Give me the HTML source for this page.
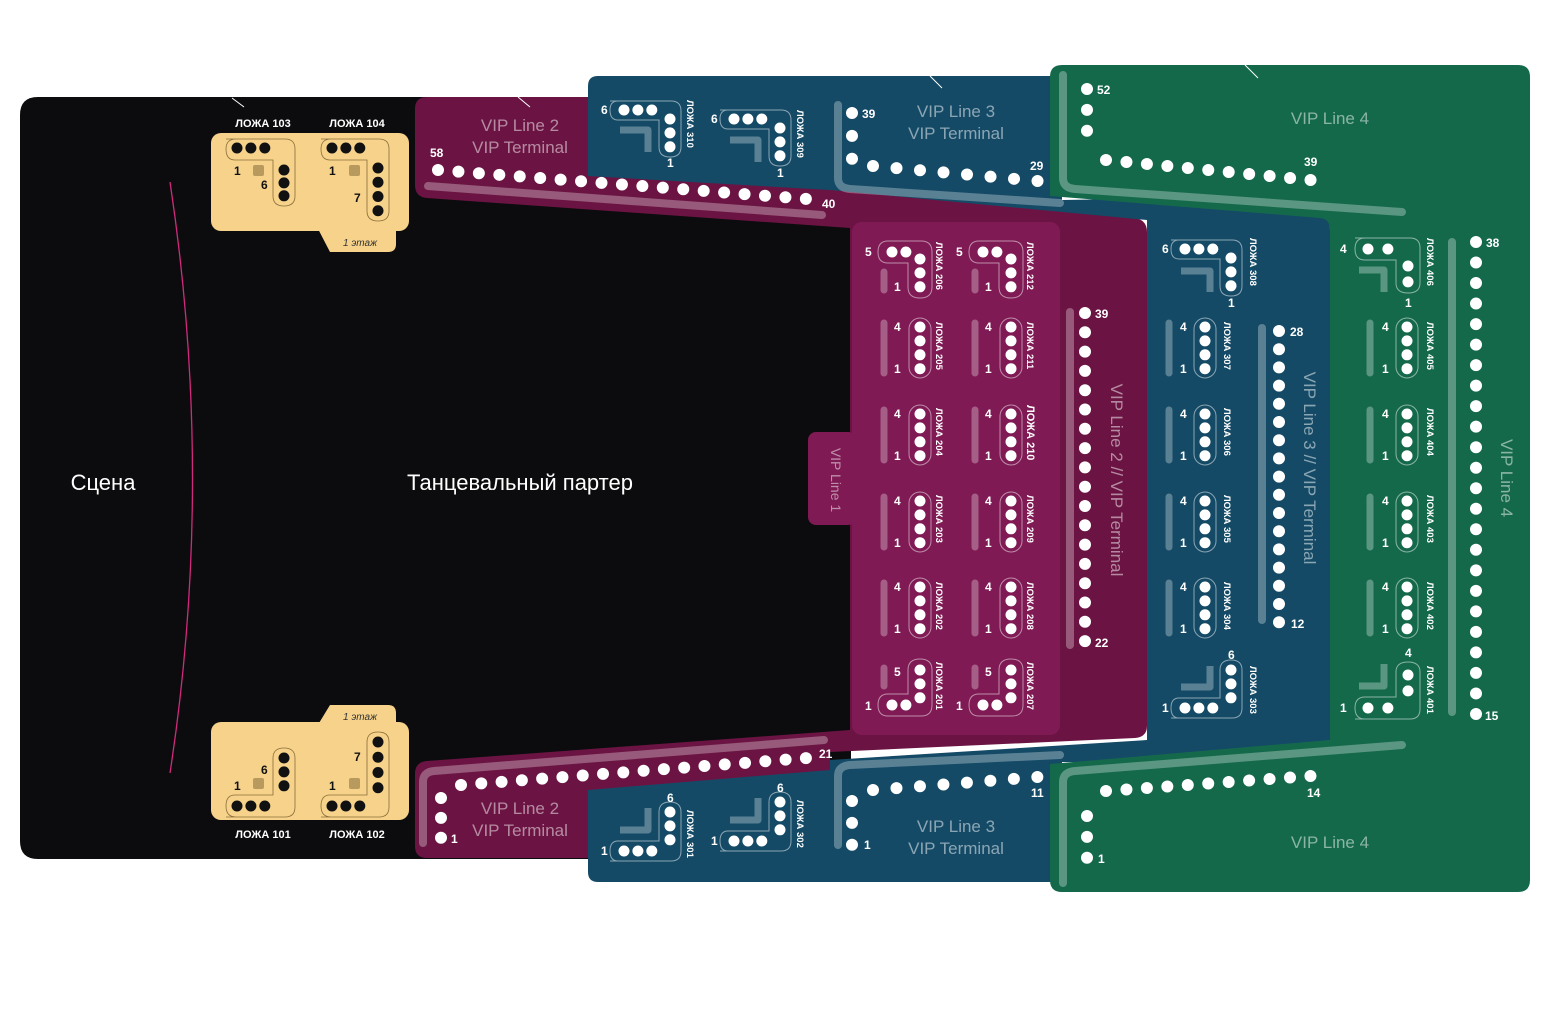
<!DOCTYPE html>
<html><head><meta charset="utf-8"><style>
html,body{margin:0;padding:0;background:#fff;width:1550px;height:1030px;overflow:hidden}
svg{display:block}
text{font-family:"Liberation Sans","DejaVu Sans",sans-serif}
.d{stroke:#fff;stroke-width:12;stroke-linecap:round;fill:none}
.ld{stroke:#fff;stroke-width:11;stroke-linecap:round;fill:none}
.bd{stroke:#111;stroke-width:11;stroke-linecap:round;fill:none}
.n{fill:#fff;font-weight:bold;font-size:12px}
.nb{fill:#111;font-weight:bold;font-size:12px}
.lb{fill:#fff;font-weight:bold;font-size:9.5px}
.ol{fill:none;stroke:rgba(255,255,255,.5);stroke-width:1}
.bar{stroke:rgba(255,255,255,.3);stroke-width:7;stroke-linecap:round;fill:none}
.big{stroke:rgba(255,255,255,.3);stroke-width:8;stroke-linecap:round;fill:none}
</style></head><body>
<svg width="1550" height="1030" viewBox="0 0 1550 1030" xmlns="http://www.w3.org/2000/svg">
<path d="M38,97 H851 V859 H38 Q20,859 20,841 V115 Q20,97 38,97 Z" fill="#0c0c0e"/>
<path d="M170,182 Q215,480 170,773" stroke="#d02a7c" stroke-width="1.3" fill="none"/>
<text x="103" y="490" fill="#fff" font-size="22" text-anchor="middle">Сцена</text>
<text x="520" y="490" fill="#fff" font-size="22" text-anchor="middle">Танцевальный партер</text>

<path fill="#6b1443" d="M427,97 H600 V172 L830,188 L1135,218 Q1147,220 1147,232 V726 Q1147,737 1135,738 L830,752 V858 H427 Q415,858 415,846 V774 Q415,762 427,761 L850,730 V228 L427,198 Q415,197 415,185 V109 Q415,97 427,97 Z"/>
<rect x="852" y="222" width="208" height="513" rx="10" fill="#7f1a54"/>
<rect x="808" y="432" width="48" height="93" rx="8" fill="#7f1a54"/>
<path class="big" d="M428,186 L822,215"/>
<path class="big" d="M423,843 V782 Q423,772 434,771 L824,740"/>
<path class="big" d="M1070,312 V645"/>

<path fill="#144a66" d="M598,76 H1062 V200 L1300,196 Q1330,200 1330,230 V762 L1062,762 V882 H598 Q588,882 588,872 V790 L830,770 V760 L1147,740 V220 L830,190 L588,176 V86 Q588,76 598,76 Z"/>
<path class="big" d="M838,105 V178 Q838,188 850,189 L1060,203"/>
<path class="big" d="M838,845 V776 Q838,766 850,765 L1060,755"/>
<path class="big" d="M1262,328 V620"/>

<path fill="#14694b" d="M1062,65 H1518 Q1530,65 1530,77 V880 Q1530,892 1518,892 H1062 Q1050,892 1050,880 V764 L1330,740 V230 Q1330,219 1320,218 L1050,196 V77 Q1050,65 1062,65 Z"/>
<path class="big" d="M1063,75 V178 Q1063,188 1075,189 L1402,212"/>
<path class="big" d="M1063,883 V782 Q1063,772 1075,771 L1402,745"/>
<path class="big" d="M1452,242 V712"/>

<g stroke="#fff" stroke-width="1"><line x1="232" y1="98" x2="244" y2="107"/><line x1="518" y1="97" x2="530" y2="107"/><line x1="930" y1="76" x2="942" y2="88"/><line x1="1245" y1="65" x2="1258" y2="78"/></g>

<g fill="rgba(255,255,255,.5)" font-size="17" text-anchor="middle">
<text x="520" y="131">VIP Line 2</text><text x="520" y="153">VIP Terminal</text>
<text x="520" y="814">VIP Line 2</text><text x="520" y="836">VIP Terminal</text>
<text x="956" y="117">VIP Line 3</text><text x="956" y="139">VIP Terminal</text>
<text x="956" y="832">VIP Line 3</text><text x="956" y="854">VIP Terminal</text>
<text x="1330" y="124">VIP Line 4</text><text x="1330" y="848">VIP Line 4</text>
<text transform="translate(1111,480) rotate(90)">VIP Line 2 // VIP Terminal</text>
<text transform="translate(1304,468) rotate(90)">VIP Line 3 // VIP Terminal</text>
<text transform="translate(1501,478) rotate(90)">VIP Line 4</text>
<text transform="translate(831,480) rotate(90)" font-size="14">VIP Line 1</text>
</g>

<line class="d" x1="438" y1="170" x2="807" y2="199" stroke-dasharray="0 20.5"/>
<line class="d" x1="461" y1="785" x2="807" y2="758" stroke-dasharray="0 20.35"/>
<line class="d" x1="441" y1="798" x2="441" y2="838" stroke-dasharray="0 19.9"/>
<line class="d" x1="852" y1="113" x2="852" y2="159" stroke-dasharray="0 22.9"/>
<line class="d" x1="873" y1="166" x2="1038" y2="181" stroke-dasharray="0 23.6"/>
<line class="d" x1="852" y1="801" x2="852" y2="845" stroke-dasharray="0 21.9"/>
<line class="d" x1="873" y1="790" x2="1038" y2="777" stroke-dasharray="0 23.55"/>
<line class="d" x1="1087" y1="89" x2="1087" y2="131" stroke-dasharray="0 20.9"/>
<line class="d" x1="1106" y1="160" x2="1311" y2="180" stroke-dasharray="0 20.55"/>
<line class="d" x1="1087" y1="816" x2="1087" y2="858" stroke-dasharray="0 20.9"/>
<line class="d" x1="1106" y1="791" x2="1311" y2="776" stroke-dasharray="0 20.5"/>
<line class="d" x1="1085" y1="313" x2="1085" y2="642" stroke-dasharray="0 19.3"/>
<line class="d" x1="1279" y1="331" x2="1279" y2="623" stroke-dasharray="0 18.2"/>
<line class="d" x1="1476" y1="242" x2="1476" y2="715" stroke-dasharray="0 20.52"/>
<g class="n">
<text x="430" y="157">58</text><text x="822" y="208">40</text>
<text x="819" y="758">21</text><text x="451" y="843">1</text>
<text x="862" y="118">39</text><text x="1030" y="170">29</text>
<text x="1031" y="797">11</text><text x="864" y="849">1</text>
<text x="1097" y="94">52</text><text x="1304" y="166">39</text>
<text x="1307" y="797">14</text><text x="1098" y="863">1</text>
<text x="1095" y="318">39</text><text x="1095" y="647">22</text>
<text x="1290" y="336">28</text><text x="1291" y="628">12</text>
<text x="1486" y="247">38</text><text x="1485" y="720">15</text>
</g>

<g fill="#f6d28a">
<rect x="211" y="133" width="198" height="98" rx="10"/>
<path d="M316,225 H396 V244 Q396,252 388,252 H330 Z"/>
<rect x="211" y="722" width="198" height="98" rx="10"/>
<path d="M316,728 H396 V713 Q396,705 388,705 H330 Z"/>
</g>
<g fill="#333" font-size="10" font-style="italic" text-anchor="middle"><text x="360" y="246">1 этаж</text><text x="360" y="720">1 этаж</text></g>
<g fill="none" stroke="#8a6d3b" stroke-width="0.8">
<path d="M226,139 H285 Q295,139 295,149 V196 Q295,206 284,206 Q273,206 273,196 V160 H235 Q226,160 226,149 Q226,139 236,139 Z"/>
<path d="M321,139 H379 Q389,139 389,149 V211 Q389,221 378,221 Q367,221 367,211 V160 H330 Q321,160 321,149 Q321,139 331,139 Z"/>
<path d="M226,817 H285 Q295,817 295,807 V758 Q295,748 284,748 Q273,748 273,758 V795 H235 Q226,795 226,806 Q226,817 236,817 Z"/>
<path d="M321,817 H379 Q389,817 389,807 V742 Q389,732 378,732 Q367,732 367,742 V795 H330 Q321,795 321,806 Q321,817 331,817 Z"/>
</g>
<g class="bd">
<line x1="237" y1="148" x2="265" y2="148" stroke-dasharray="0 13.9"/><line x1="284" y1="170" x2="284" y2="196" stroke-dasharray="0 12.9"/>
<line x1="332" y1="148" x2="360" y2="148" stroke-dasharray="0 13.9"/><line x1="378" y1="168" x2="378" y2="211" stroke-dasharray="0 14.25"/>
<line x1="237" y1="806" x2="265" y2="806" stroke-dasharray="0 13.9"/><line x1="284" y1="758" x2="284" y2="786" stroke-dasharray="0 13.9"/>
<line x1="332" y1="806" x2="360" y2="806" stroke-dasharray="0 13.9"/><line x1="378" y1="742" x2="378" y2="788" stroke-dasharray="0 15.25"/>
</g>
<g fill="#b89a5f"><rect x="253" y="165" width="11" height="11" rx="2"/><rect x="349" y="165" width="11" height="11" rx="2"/><rect x="253" y="778" width="11" height="11" rx="2"/><rect x="349" y="778" width="11" height="11" rx="2"/></g>
<g class="nb">
<text x="234" y="175">1</text><text x="261" y="189">6</text><text x="329" y="175">1</text><text x="354" y="202">7</text>
<text x="234" y="790">1</text><text x="261" y="774">6</text><text x="329" y="790">1</text><text x="354" y="761">7</text>
</g>
<g fill="#fff" font-weight="bold" font-size="11" text-anchor="middle">
<text x="263" y="127">ЛОЖА 103</text><text x="357" y="127">ЛОЖА 104</text>
<text x="263" y="838">ЛОЖА 101</text><text x="357" y="838">ЛОЖА 102</text>
</g>

<g>
<g class="ol">
<rect x="909" y="318" width="22" height="60" rx="11"/><rect x="909" y="405" width="22" height="60" rx="11"/><rect x="909" y="492" width="22" height="60" rx="11"/><rect x="909" y="578" width="22" height="60" rx="11"/>
<rect x="1000" y="318" width="22" height="60" rx="11"/><rect x="1000" y="405" width="22" height="60" rx="11"/><rect x="1000" y="492" width="22" height="60" rx="11"/><rect x="1000" y="578" width="22" height="60" rx="11"/>
<rect x="1194" y="318" width="22" height="60" rx="11"/><rect x="1194" y="405" width="22" height="60" rx="11"/><rect x="1194" y="492" width="22" height="60" rx="11"/><rect x="1194" y="578" width="22" height="60" rx="11"/>
<rect x="1396" y="318" width="22" height="60" rx="11"/><rect x="1396" y="405" width="22" height="60" rx="11"/><rect x="1396" y="492" width="22" height="60" rx="11"/><rect x="1396" y="578" width="22" height="60" rx="11"/>
</g>
<g class="ld" stroke-dasharray="0 13.9">
<line x1="920" y1="327" x2="920" y2="369"/><line x1="920" y1="414" x2="920" y2="456"/><line x1="920" y1="501" x2="920" y2="543"/><line x1="920" y1="587" x2="920" y2="629"/>
<line x1="1011" y1="327" x2="1011" y2="369"/><line x1="1011" y1="414" x2="1011" y2="456"/><line x1="1011" y1="501" x2="1011" y2="543"/><line x1="1011" y1="587" x2="1011" y2="629"/>
<line x1="1205" y1="327" x2="1205" y2="369"/><line x1="1205" y1="414" x2="1205" y2="456"/><line x1="1205" y1="501" x2="1205" y2="543"/><line x1="1205" y1="587" x2="1205" y2="629"/>
<line x1="1407" y1="327" x2="1407" y2="369"/><line x1="1407" y1="414" x2="1407" y2="456"/><line x1="1407" y1="501" x2="1407" y2="543"/><line x1="1407" y1="587" x2="1407" y2="629"/>
</g>
<g class="bar">
<line x1="884" y1="323" x2="884" y2="373"/><line x1="884" y1="410" x2="884" y2="460"/><line x1="884" y1="497" x2="884" y2="547"/><line x1="884" y1="583" x2="884" y2="633"/>
<line x1="975" y1="323" x2="975" y2="373"/><line x1="975" y1="410" x2="975" y2="460"/><line x1="975" y1="497" x2="975" y2="547"/><line x1="975" y1="583" x2="975" y2="633"/>
<line x1="1169" y1="323" x2="1169" y2="373"/><line x1="1169" y1="410" x2="1169" y2="460"/><line x1="1169" y1="497" x2="1169" y2="547"/><line x1="1169" y1="583" x2="1169" y2="633"/>
<line x1="1370" y1="323" x2="1370" y2="373"/><line x1="1370" y1="410" x2="1370" y2="460"/><line x1="1370" y1="497" x2="1370" y2="547"/><line x1="1370" y1="583" x2="1370" y2="633"/>
<line x1="884" y1="272" x2="884" y2="290"/><line x1="975" y1="272" x2="975" y2="290"/><line x1="884" y1="668" x2="884" y2="686"/><line x1="975" y1="668" x2="975" y2="686"/>
</g>
<g class="n" font-size="11">
<text x="894" y="331">4</text><text x="894" y="373">1</text><text x="894" y="418">4</text><text x="894" y="460">1</text><text x="894" y="505">4</text><text x="894" y="547">1</text><text x="894" y="591">4</text><text x="894" y="633">1</text>
<text x="985" y="331">4</text><text x="985" y="373">1</text><text x="985" y="418">4</text><text x="985" y="460">1</text><text x="985" y="505">4</text><text x="985" y="547">1</text><text x="985" y="591">4</text><text x="985" y="633">1</text>
<text x="1180" y="331">4</text><text x="1180" y="373">1</text><text x="1180" y="418">4</text><text x="1180" y="460">1</text><text x="1180" y="505">4</text><text x="1180" y="547">1</text><text x="1180" y="591">4</text><text x="1180" y="633">1</text>
<text x="1382" y="331">4</text><text x="1382" y="373">1</text><text x="1382" y="418">4</text><text x="1382" y="460">1</text><text x="1382" y="505">4</text><text x="1382" y="547">1</text><text x="1382" y="591">4</text><text x="1382" y="633">1</text>
</g>
</g>

<g class="ol">
<path d="M888,241 H921 Q932,241 932,252 V287 Q932,298 920,298 Q908,298 908,287 V263 H888 Q878,263 878,252 Q878,241 888,241 Z"/>
<path d="M979,241 H1012 Q1023,241 1023,252 V287 Q1023,298 1011,298 Q999,298 999,287 V263 H979 Q969,263 969,252 Q969,241 979,241 Z"/>
<path d="M888,716 H921 Q932,716 932,705 V670 Q932,659 920,659 Q908,659 908,670 V694 H888 Q878,694 878,705 Q878,716 888,716 Z"/>
<path d="M979,716 H1012 Q1023,716 1023,705 V670 Q1023,659 1011,659 Q999,659 999,670 V694 H979 Q969,694 969,705 Q969,716 979,716 Z"/>
</g>
<g class="ld">
<line x1="892" y1="252" x2="906" y2="252" stroke-dasharray="0 13.9"/><line x1="920" y1="259" x2="920" y2="287" stroke-dasharray="0 13.9"/>
<line x1="983" y1="252" x2="997" y2="252" stroke-dasharray="0 13.9"/><line x1="1011" y1="259" x2="1011" y2="287" stroke-dasharray="0 13.9"/>
<line x1="892" y1="705" x2="906" y2="705" stroke-dasharray="0 13.9"/><line x1="920" y1="670" x2="920" y2="698" stroke-dasharray="0 13.9"/>
<line x1="983" y1="705" x2="997" y2="705" stroke-dasharray="0 13.9"/><line x1="1011" y1="670" x2="1011" y2="698" stroke-dasharray="0 13.9"/>
</g>
<g class="n" font-size="11">
<text x="865" y="256">5</text><text x="894" y="291">1</text><text x="956" y="256">5</text><text x="985" y="291">1</text>
<text x="894" y="676">5</text><text x="865" y="710">1</text><text x="985" y="676">5</text><text x="956" y="710">1</text>
</g>

<g class="ol">
<path d="M610,101 H671 Q681,101 681,111 V147 Q681,157 670,157 Q659,157 659,147 V120 H618 Q610,120 610,110 Q610,101 618,101 Z"/>
<path d="M720,110 H781 Q791,110 791,120 V156 Q791,166 780,166 Q769,166 769,156 V129 H728 Q720,129 720,119 Q720,110 728,110 Z"/>
<path d="M610,861 H671 Q681,861 681,851 V812 Q681,802 670,802 Q659,802 659,812 V841 H618 Q610,841 610,851 Q610,861 618,861 Z"/>
<path d="M720,851 H781 Q791,851 791,841 V802 Q791,792 780,792 Q769,792 769,802 V831 H728 Q720,831 720,841 Q720,851 728,851 Z"/>
<path d="M1171,240 H1232 Q1242,240 1242,250 V286 Q1242,296 1231,296 Q1220,296 1220,286 V259 H1179 Q1171,259 1171,249 Q1171,240 1179,240 Z"/>
<path d="M1171,718 H1232 Q1242,718 1242,708 V670 Q1242,660 1231,660 Q1220,660 1220,670 V698 H1179 Q1171,698 1171,708 Q1171,718 1179,718 Z"/>
<path d="M1355,238 H1410 Q1420,238 1420,248 V283 Q1420,293 1408,293 Q1396,293 1396,283 V260 H1365 Q1355,260 1355,249 Q1355,238 1365,238 Z"/>
<path d="M1355,719 H1410 Q1420,719 1420,709 V672 Q1420,662 1408,662 Q1396,662 1396,672 V697 H1365 Q1355,697 1355,708 Q1355,719 1365,719 Z"/>
</g>
<g class="ld" stroke-dasharray="0 13.9">
<line x1="624" y1="110" x2="652" y2="110"/><line x1="670" y1="119" x2="670" y2="147"/>
<line x1="734" y1="119" x2="762" y2="119"/><line x1="780" y1="128" x2="780" y2="156"/>
<line x1="624" y1="851" x2="652" y2="851"/><line x1="670" y1="812" x2="670" y2="840"/>
<line x1="734" y1="841" x2="762" y2="841"/><line x1="780" y1="802" x2="780" y2="830"/>
<line x1="1185" y1="249" x2="1213" y2="249"/><line x1="1231" y1="258" x2="1231" y2="286"/>
<line x1="1185" y1="708" x2="1213" y2="708"/><line x1="1231" y1="670" x2="1231" y2="698"/>
<line x1="1368" y1="249" x2="1388" y2="249" stroke-dasharray="0 19.9"/><line x1="1408" y1="266" x2="1408" y2="282" stroke-dasharray="0 15.9"/>
<line x1="1368" y1="708" x2="1388" y2="708" stroke-dasharray="0 19.9"/><line x1="1408" y1="675" x2="1408" y2="691" stroke-dasharray="0 15.9"/>
</g>
<g fill="none" stroke="rgba(255,255,255,.3)" stroke-width="7" stroke-linejoin="round">
<path d="M620,130 H648 V152"/><path d="M730,140 H758 V162"/>
<path d="M620,830 H648 V808"/><path d="M730,820 H758 V798"/>
<path d="M1181,271 H1210 V292"/><path d="M1181,687 H1210 V666"/>
<path d="M1359,270 H1384 V292"/><path d="M1359,686 H1384 V664"/>
</g>
<g class="n" font-size="11">
<text x="601" y="114">6</text><text x="667" y="167">1</text>
<text x="711" y="123">6</text><text x="777" y="177">1</text>
<text x="667" y="802">6</text><text x="601" y="855">1</text>
<text x="777" y="792">6</text><text x="711" y="845">1</text>
<text x="1162" y="253">6</text><text x="1228" y="307">1</text>
<text x="1228" y="659">6</text><text x="1162" y="712">1</text>
<text x="1340" y="253">4</text><text x="1405" y="307">1</text>
<text x="1405" y="657">4</text><text x="1340" y="712">1</text>
</g>

<g class="lb">
<text transform="translate(936,242) rotate(90)">ЛОЖА 206</text>
<text transform="translate(936,322) rotate(90)">ЛОЖА 205</text>
<text transform="translate(936,408) rotate(90)">ЛОЖА 204</text>
<text transform="translate(936,495) rotate(90)">ЛОЖА 203</text>
<text transform="translate(936,582) rotate(90)">ЛОЖА 202</text>
<text transform="translate(936,662) rotate(90)">ЛОЖА 201</text>
<text transform="translate(1027,242) rotate(90)">ЛОЖА 212</text>
<text transform="translate(1027,322) rotate(90)">ЛОЖА 211</text>
<text transform="translate(1027,405) rotate(90)" font-size="11">ЛОЖА 210</text>
<text transform="translate(1027,495) rotate(90)">ЛОЖА 209</text>
<text transform="translate(1027,582) rotate(90)">ЛОЖА 208</text>
<text transform="translate(1027,662) rotate(90)">ЛОЖА 207</text>
<text transform="translate(687,100) rotate(90)">ЛОЖА 310</text>
<text transform="translate(797,110) rotate(90)">ЛОЖА 309</text>
<text transform="translate(687,810) rotate(90)">ЛОЖА 301</text>
<text transform="translate(797,800) rotate(90)">ЛОЖА 302</text>
<text transform="translate(1250,238) rotate(90)">ЛОЖА 308</text>
<text transform="translate(1224,322) rotate(90)">ЛОЖА 307</text>
<text transform="translate(1224,408) rotate(90)">ЛОЖА 306</text>
<text transform="translate(1224,495) rotate(90)">ЛОЖА 305</text>
<text transform="translate(1224,582) rotate(90)">ЛОЖА 304</text>
<text transform="translate(1250,666) rotate(90)">ЛОЖА 303</text>
<text transform="translate(1427,238) rotate(90)">ЛОЖА 406</text>
<text transform="translate(1427,322) rotate(90)">ЛОЖА 405</text>
<text transform="translate(1427,408) rotate(90)">ЛОЖА 404</text>
<text transform="translate(1427,495) rotate(90)">ЛОЖА 403</text>
<text transform="translate(1427,582) rotate(90)">ЛОЖА 402</text>
<text transform="translate(1427,666) rotate(90)">ЛОЖА 401</text>
</g>
</svg>
</body></html>
